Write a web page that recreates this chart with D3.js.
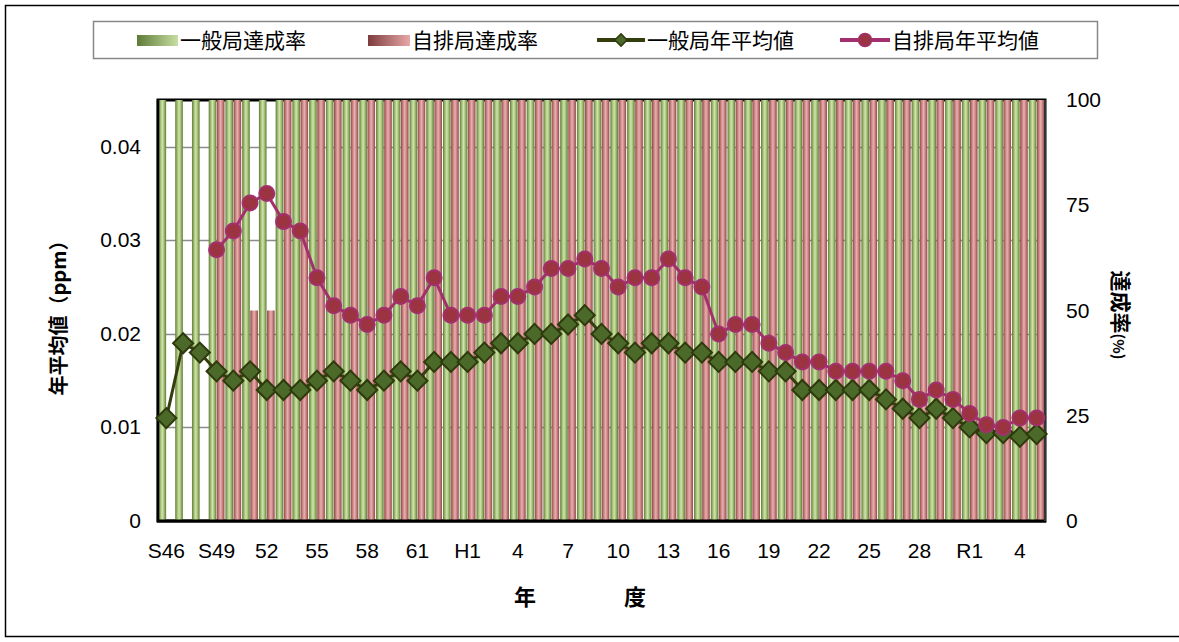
<!DOCTYPE html>
<html>
<head>
<meta charset="utf-8">
<script src="https://cdn.jsdelivr.net/npm/d3@7"></script>
<style>
  body { margin: 0; background: #fff; }
  svg text { font-family: "Liberation Sans", Arial, "Noto Sans CJK JP", sans-serif; }
  .jp { font-family: "Noto Sans CJK JP", sans-serif; }
</style>
</head>
<body>
<svg width="1179" height="642"></svg>
<script>
// fiscal years S46 (1971) .. R5 (2023)
var years = ["S46","S47","S48","S49","S50","S51","S52","S53","S54","S55","S56","S57","S58","S59","S60","S61","S62","S63",
  "H1","H2","H3","H4","H5","H6","H7","H8","H9","H10","H11","H12","H13","H14","H15","H16","H17","H18","H19","H20",
  "H21","H22","H23","H24","H25","H26","H27","H28","H29","H30","R1","R2","R3","R4","R5"];

// 一般局 年平均値 (ppm)
var ippanAvg = [0.011,0.019,0.018,0.016,0.015,0.016,0.014,0.014,0.014,0.015,0.016,0.015,0.014,0.015,0.016,0.015,0.017,0.017,
  0.017,0.018,0.019,0.019,0.020,0.020,0.021,0.022,0.020,0.019,0.018,0.019,0.019,0.018,0.018,0.017,0.017,0.017,0.016,0.016,
  0.014,0.014,0.014,0.014,0.014,0.013,0.012,0.011,0.012,0.011,0.010,0.0094,0.0094,0.009,0.0093];

// 自排局 年平均値 (ppm), no data before S49
var jihaiAvg = [null,null,null,0.029,0.031,0.034,0.035,0.032,0.031,0.026,0.023,0.022,0.021,0.022,0.024,0.023,0.026,0.022,
  0.022,0.022,0.024,0.024,0.025,0.027,0.027,0.028,0.027,0.025,0.026,0.026,0.028,0.026,0.025,0.020,0.021,0.021,0.019,0.018,
  0.017,0.017,0.016,0.016,0.016,0.016,0.015,0.013,0.014,0.013,0.0115,0.0103,0.010,0.011,0.011];

// 達成率 (%)
var ippanRate = [100,100,100,100,100,100,100,100,100,100,100,100,100,100,100,100,100,100,
  100,100,100,100,100,100,100,100,100,100,100,100,100,100,100,100,100,100,100,100,
  100,100,100,100,100,100,100,100,100,100,100,100,100,100,100];
var jihaiRate = [null,null,null,100,100,50,50,100,100,100,100,100,100,100,100,100,100,100,
  100,100,100,100,100,100,100,100,100,100,100,100,100,100,100,100,100,100,100,100,
  100,100,100,100,100,100,100,100,100,100,100,100,100,100,100];

var tickYears = ["S46","S49","S52","S55","S58","S61","H1","H4","H7","H10","H13","H16","H19","H22","H25","H28","R1","R4"];
var tickText  = ["S46","S49","52","55","58","61","H1","4","7","10","13","16","19","22","25","28","R1","4"];
var leftTicks = [0, 0.01, 0.02, 0.03, 0.04];
var rightTicks = [0, 25, 50, 75, 100];

var svg = d3.select("svg");

var plot = {left: 158, right: 1045, top: 100, bottom: 521};

var x = d3.scaleBand().domain(years).range([plot.left, plot.right]).padding(0);
var xSub = d3.scaleBand().domain(["g","r"]).range([0, x.bandwidth()]).paddingInner(0.06).paddingOuter(0.06);
var yL = d3.scaleLinear().domain([0, 0.045]).range([plot.bottom, plot.top]);
var yR = d3.scaleLinear().domain([0, 100]).range([plot.bottom, plot.top]);

// gradients
var defs = svg.append("defs");
function grad(id, dark, mid, light) {
  var g = defs.append("linearGradient").attr("id", id).attr("x1", 0).attr("x2", 1).attr("y1", 0).attr("y2", 0);
  [[0, dark], [0.3, mid], [0.5, light], [0.7, mid], [1, dark]].forEach(function(s) {
    g.append("stop").attr("offset", s[0]).attr("stop-color", s[1]);
  });
}
grad("gGreen", "#5e7b36", "#a9c57c", "#cfe3ac");
grad("gRed", "#8c4848", "#d08888", "#e8afaf");
function grad2(id, dark, light) {
  var g = defs.append("linearGradient").attr("id", id).attr("x1", 0).attr("x2", 1).attr("y1", 0).attr("y2", 0);
  g.append("stop").attr("offset", 0).attr("stop-color", dark);
  g.append("stop").attr("offset", 1).attr("stop-color", light);
}
grad2("lgGreen", "#5e7b36", "#c8dea4");
grad2("lgRed", "#7e3c3c", "#e8a8a8");

// outer frame
svg.append("rect").attr("x", 5.5).attr("y", 5.5).attr("width", 1200).attr("height", 631)
  .attr("fill", "none").attr("stroke", "#000").attr("stroke-width", 1.5);

// legend
var lg = svg.append("g");
lg.append("rect").attr("x", 93.5).attr("y", 21.5).attr("width", 1004).attr("height", 37)
  .attr("fill", "#fff").attr("stroke", "#888").attr("stroke-width", 1.5);
lg.append("rect").attr("x", 137).attr("y", 35).attr("width", 41).attr("height", 11).attr("fill", "url(#lgGreen)");
lg.append("text").attr("class", "jp").attr("x", 180).attr("y", 48).attr("font-size", 21).text("一般局達成率");
lg.append("rect").attr("x", 368).attr("y", 35).attr("width", 42).attr("height", 11).attr("fill", "url(#lgRed)");
lg.append("text").attr("class", "jp").attr("x", 412).attr("y", 48).attr("font-size", 21).text("自排局達成率");
lg.append("line").attr("x1", 597).attr("x2", 645).attr("y1", 40).attr("y2", 40).attr("stroke", "#333d0d").attr("stroke-width", 4);
lg.append("path").attr("d", d3.symbol(d3.symbolSquare, 75)()).attr("transform", "translate(621,40) rotate(45)")
  .attr("fill", "#4b6a2a").attr("stroke", "#2e3a0c").attr("stroke-width", 1.5);
lg.append("text").attr("class", "jp").attr("x", 647).attr("y", 48).attr("font-size", 21).text("一般局年平均値");
lg.append("line").attr("x1", 840).attr("x2", 890).attr("y1", 40).attr("y2", 40).attr("stroke", "#a3306e").attr("stroke-width", 4);
lg.append("circle").attr("cx", 865).attr("cy", 40).attr("r", 6.5).attr("fill", "#9b3340").attr("stroke", "#a3306e").attr("stroke-width", 1.5);
lg.append("text").attr("class", "jp").attr("x", 892).attr("y", 48).attr("font-size", 21).text("自排局年平均値");

// plot border + gridlines
svg.append("rect").attr("x", plot.left).attr("y", plot.top).attr("width", plot.right - plot.left).attr("height", plot.bottom - plot.top)
  .attr("fill", "#fff").attr("stroke", "#000").attr("stroke-width", 3);
svg.append("g").selectAll("line").data(leftTicks.slice(1)).enter().append("line")
  .attr("x1", plot.left).attr("x2", plot.right)
  .attr("y1", function(d) { return Math.round(yL(d)) + 0.5; })
  .attr("y2", function(d) { return Math.round(yL(d)) + 0.5; })
  .attr("stroke", "#8c8c8c").attr("stroke-width", 1.5);

// bars
var bars = svg.append("g");
bars.selectAll("rect.g").data(years).enter().append("rect").attr("class", "g")
  .attr("x", function(d) { return x(d) + xSub("g"); })
  .attr("width", xSub.bandwidth())
  .attr("y", function(d, i) { return yR(ippanRate[i]); })
  .attr("height", function(d, i) { return yR(0) - yR(ippanRate[i]); })
  .attr("fill", "url(#gGreen)");
bars.selectAll("rect.r").data(years.filter(function(d, i) { return jihaiRate[i] != null; })).enter().append("rect").attr("class", "r")
  .attr("x", function(d) { return x(d) + xSub("r"); })
  .attr("width", xSub.bandwidth())
  .attr("y", function(d) { return yR(jihaiRate[years.indexOf(d)]); })
  .attr("height", function(d) { return yR(0) - yR(jihaiRate[years.indexOf(d)]); })
  .attr("fill", "url(#gRed)");

// axes lines
svg.append("line").attr("x1", plot.left).attr("x2", plot.left).attr("y1", plot.top).attr("y2", plot.bottom + 1)
  .attr("stroke", "#000").attr("stroke-width", 2.5);
svg.append("line").attr("x1", plot.left - 1).attr("x2", plot.right + 1).attr("y1", plot.bottom).attr("y2", plot.bottom)
  .attr("stroke", "#000").attr("stroke-width", 3);
svg.append("line").attr("x1", plot.right).attr("x2", plot.right).attr("y1", plot.top).attr("y2", plot.bottom)
  .attr("stroke", "#333").attr("stroke-width", 2);

// left axis labels
svg.append("g").selectAll("text").data(leftTicks).enter().append("text")
  .attr("x", 141).attr("y", function(d) { return yL(d) + 7; })
  .attr("text-anchor", "end").attr("font-size", 21)
  .text(function(d) { return d === 0 ? "0" : d3.format(".2f")(d); });
// right axis labels
svg.append("g").selectAll("text").data(rightTicks).enter().append("text")
  .attr("x", 1066).attr("y", function(d) { return yR(d) + 7; })
  .attr("font-size", 21)
  .text(function(d) { return d; });
// x labels
svg.append("g").selectAll("text").data(tickYears).enter().append("text")
  .attr("x", function(d) { return x(d) + x.bandwidth() / 2; })
  .attr("y", 558).attr("text-anchor", "middle").attr("font-size", 21)
  .text(function(d, i) { return tickText[i]; });

// axis titles
svg.append("text").attr("class", "jp").attr("transform", "translate(66,313) rotate(-90)")
  .attr("text-anchor", "middle").attr("font-size", 20).attr("font-weight", "bold").text("年平均値（ppm）");
var rt = svg.append("text").attr("class", "jp").attr("transform", "translate(1113,315) rotate(90)")
  .attr("text-anchor", "middle").attr("font-size", 21).attr("font-weight", "bold");
rt.append("tspan").text("達成率");
rt.append("tspan").attr("font-size", 15).text("(%)");
svg.append("text").attr("class", "jp").attr("x", 580).attr("y", 605).attr("text-anchor", "middle")
  .attr("font-size", 22).attr("font-weight", "bold").attr("xml:space", "preserve").text("年　　　　度");

// lines
var cx = function(i) { return x(years[i]) + x.bandwidth() / 2; };
var lineIppan = d3.line().x(function(d, i) { return cx(i); }).y(function(d) { return yL(d); });
var lineJihai = d3.line().defined(function(d) { return d != null; }).x(function(d, i) { return cx(i); }).y(function(d) { return yL(d); });

svg.append("path").datum(ippanAvg).attr("d", lineIppan).attr("fill", "none").attr("stroke", "#333d0d").attr("stroke-width", 3);
svg.append("g").selectAll("path").data(ippanAvg).enter().append("path")
  .attr("d", d3.symbol(d3.symbolSquare, 200)())
  .attr("transform", function(d, i) { return "translate(" + cx(i) + "," + yL(d) + ") rotate(45)"; })
  .attr("fill", "#4b6a2a").attr("stroke", "#2e3a0c").attr("stroke-width", 2);

svg.append("path").datum(jihaiAvg).attr("d", lineJihai).attr("fill", "none").attr("stroke", "#a3306e").attr("stroke-width", 3);
svg.append("g").selectAll("circle").data(jihaiAvg.map(function(d, i) { return {v: d, i: i}; }).filter(function(d) { return d.v != null; }))
  .enter().append("circle")
  .attr("cx", function(d) { return cx(d.i); })
  .attr("cy", function(d) { return yL(d.v); })
  .attr("r", 7.5)
  .attr("fill", "#9b3340").attr("stroke", "#a3306e").attr("stroke-width", 2);
</script>
</body>
</html>
